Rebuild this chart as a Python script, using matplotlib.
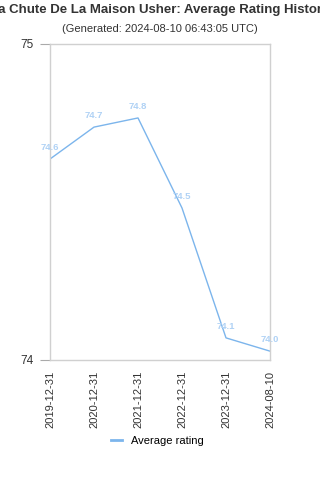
import matplotlib
matplotlib.use("Agg")
import matplotlib.pyplot as plt

dates = ["2019-12-31", "2020-12-31", "2021-12-31", "2022-12-31", "2023-12-31", "2024-08-10"]
ratings = [74.636, 74.737, 74.766, 74.481, 74.070, 74.028]
y_ticks = [74, 75]

plt.rcParams['font.family'] = ['Liberation Sans', 'DejaVu Sans']

fig = plt.figure(figsize=(3.2, 4.8), dpi=100)
ax = fig.add_axes([50/320, 1-360/480, 220/320, 316/480])

x = list(range(len(dates)))
line_color = '#7cb5ec'
ax.plot(x, ratings, color=line_color, linewidth=1.0, label='Average rating')
for xi, v in zip(x, ratings):
    ax.annotate(f"{v:.1f}", (xi, v), xytext=(0, 5), textcoords='offset points',
                ha='center', va='bottom', fontsize=6.8, fontweight='bold', color='#b0d2f5')

ax.set_xlim(0, len(dates)-1)
ax.set_ylim(74, 75)
ax.set_yticks(y_ticks)
ax.set_yticklabels([str(t) for t in y_ticks], fontsize=8.5, color='#333333')
ax.set_xticks(x)
ax.set_xticklabels(dates, rotation=90, fontsize=8, color='#333333')
ax.tick_params(axis='y', length=7, color='#aaaaaa', width=0.8, pad=5)
ax.tick_params(axis='x', length=0, pad=8)
for s in ax.spines.values():
    s.set_color('#d0d0d0')
    s.set_linewidth(1)

fig.text(0.5, 1-10/480, "La Chute De La Maison Usher: Average Rating History",
         ha='center', va='center', fontsize=9.5, fontweight='bold', color='#333333')
fig.text(0.5, 1-29/480, "(Generated: 2024-08-10 06:43:05 UTC)",
         ha='center', va='center', fontsize=8, color='#333333')

leg = fig.legend(loc='center', bbox_to_anchor=(157/320, 1-441/480), frameon=False,
                 fontsize=8, handlelength=1.0, handletextpad=0.8)
for h in leg.get_lines():
    h.set_linewidth(2)

fig.savefig("out.png", dpi=100)
